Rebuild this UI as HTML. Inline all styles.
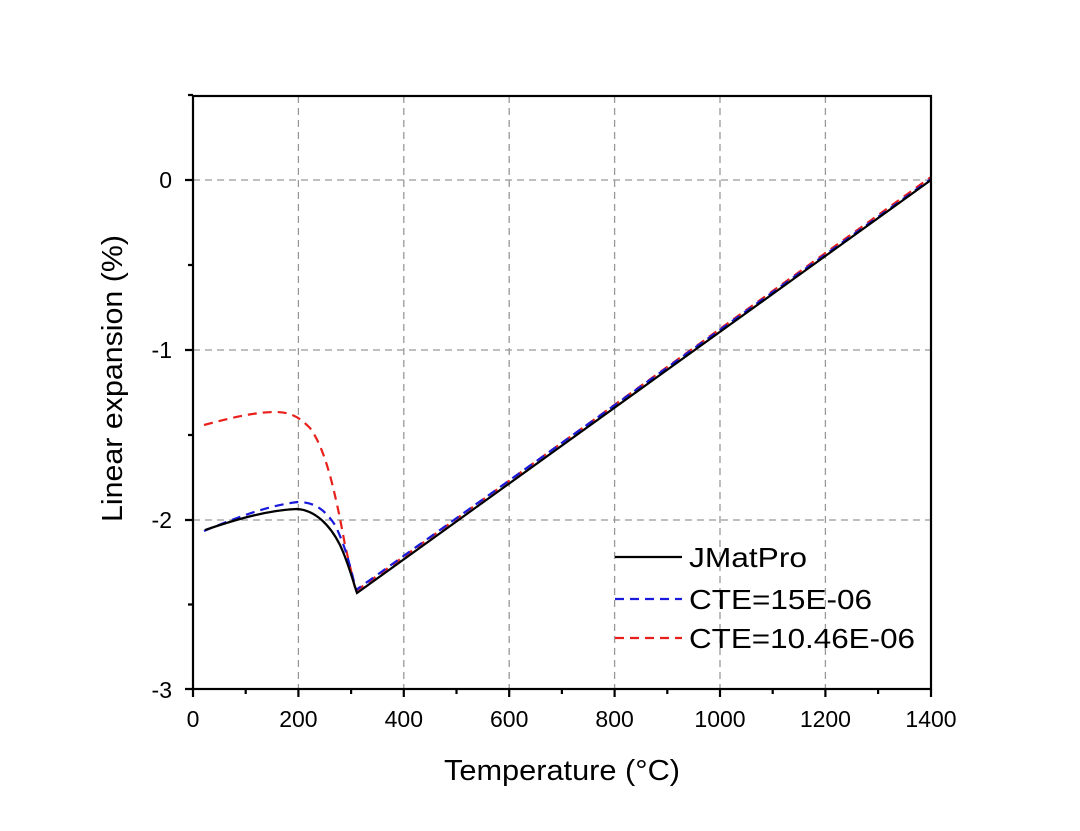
<!DOCTYPE html>
<html><head><style>body{margin:0;background:#fff}</style></head><body>
<svg width="1080" height="826" xmlns="http://www.w3.org/2000/svg" font-family="Liberation Sans, Arial, sans-serif">
<rect width="1080" height="826" fill="#fff"/>
<g stroke="#999" stroke-width="1.3" stroke-dasharray="7,5">
<line x1="298.4" y1="96" x2="298.4" y2="689"/><line x1="403.8" y1="96" x2="403.8" y2="689"/>
<line x1="509.2" y1="96" x2="509.2" y2="689"/><line x1="614.6" y1="96" x2="614.6" y2="689"/>
<line x1="720" y1="96" x2="720" y2="689"/><line x1="825.4" y1="96" x2="825.4" y2="689"/>
<line x1="193" y1="180" x2="931" y2="180"/><line x1="193" y1="350" x2="931" y2="350"/>
<line x1="193" y1="520" x2="931" y2="520"/>
</g>
<g fill="none" stroke-width="2.2">
<path d="M204,425 C230,418 255,412 275,412 C292,412 300,418 310,428 C325,448 335,490 345,545 L356,592" stroke="#e8201c" stroke-dasharray="9,6"/>
<path d="M356,591 L931,177" stroke="#e8201c" stroke-dasharray="9,6"/>
<path d="M204,531 C235,518 270,505 298,502 C315,502 325,510 335,525 C345,545 350,565 356,590 L931,179" stroke="#1a1adc" stroke-dasharray="9,6"/>
<path d="M205,530 C240,518 270,510 297,509 C315,510 330,525 340,545 C348,562 352,578 357,593 L931,180" stroke="#000"/>
</g>
<g stroke="#000" stroke-width="2.2" fill="none">
<rect x="193" y="96" width="738" height="593"/>
<path d="M193,689v8M298.4,689v8M403.8,689v8M509.2,689v8M614.6,689v8M720,689v8M825.4,689v8M931,689v8"/>
<path d="M245.7,689v5M351.1,689v5M456.5,689v5M561.9,689v5M667.3,689v5M772.7,689v5M878.1,689v5"/>
<path d="M193,180h-8M193,350h-8M193,520h-8M193,689h-8M193,95h-5M193,265h-5M193,435h-5M193,604.5h-5"/>
</g>
<g font-size="23" fill="#000">
<g text-anchor="middle">
<text x="193" y="727">0</text><text x="298.4" y="727">200</text><text x="403.8" y="727">400</text><text x="509.2" y="727">600</text><text x="614.6" y="727">800</text><text x="720" y="727">1000</text><text x="825.4" y="727">1200</text><text x="931" y="727">1400</text>
</g>
<g text-anchor="end">
<text x="172" y="188">0</text><text x="172" y="358">-1</text><text x="172" y="528">-2</text><text x="172" y="698">-3</text>
</g>
</g>
<text x="444" y="780" font-size="29" textLength="236" lengthAdjust="spacingAndGlyphs">Temperature (°C)</text>
<text transform="translate(122,522) rotate(-90)" font-size="29" textLength="287" lengthAdjust="spacingAndGlyphs">Linear expansion (%)</text>
<g stroke-width="2.2">
<line x1="615" y1="557" x2="682" y2="557" stroke="#000"/>
<line x1="615" y1="599" x2="682" y2="599" stroke="#1a1adc" stroke-dasharray="9,6"/>
<line x1="615" y1="638" x2="682" y2="638" stroke="#e8201c" stroke-dasharray="9,6"/>
</g>
<g font-size="28">
<text x="689" y="567" textLength="118" lengthAdjust="spacingAndGlyphs">JMatPro</text><text x="689" y="609" textLength="183" lengthAdjust="spacingAndGlyphs">CTE=15E-06</text><text x="689" y="648" textLength="226" lengthAdjust="spacingAndGlyphs">CTE=10.46E-06</text>
</g>
</svg>
</body></html>
